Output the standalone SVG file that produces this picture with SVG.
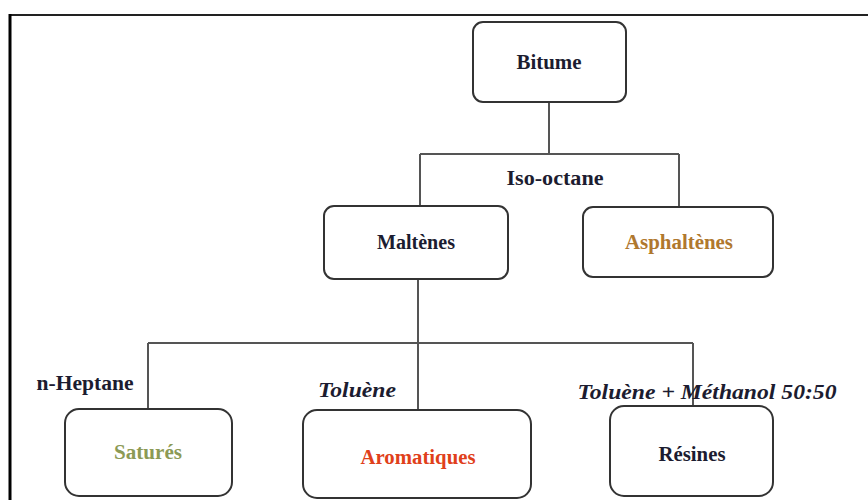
<svg xmlns="http://www.w3.org/2000/svg" width="868" height="500" viewBox="0 0 868 500">
<style>
.box{fill:#fff;stroke:#333;stroke-width:2}
.lbl{font-family:"Liberation Serif","Times New Roman",serif;font-weight:bold;font-size:20px;text-anchor:middle;dominant-baseline:central;fill:#1c1c30}
.it{font-style:italic}
.con{fill:none;stroke:#555;stroke-width:2}
</style>
<rect width="868" height="500" fill="#fff"/>
<g id="frame">
<line x1="9" y1="15" x2="868" y2="15" stroke="#222" stroke-width="2"/>
<line x1="10" y1="14" x2="10" y2="500" stroke="#000" stroke-width="3"/>
</g>
<g id="connectors">
<path class="con" d="M549 102 V154 M420 154 H679 M420 154 V206 M679 154 V207"/>
<path class="con" d="M418 279 V343 M148 343 H693 M148 343 V409 M418 343 V410 M693 343 V406"/>
</g>
<g id="bitume"><rect class="box" x="473" y="22" width="153" height="80" rx="10"/><text class="lbl" x="549" y="62" textLength="65" lengthAdjust="spacingAndGlyphs">Bitume</text></g>
<g id="isooctane"><text class="lbl" x="555" y="178" textLength="97" lengthAdjust="spacingAndGlyphs">Iso-octane</text></g>
<g id="maltenes"><rect class="box" x="324" y="206" width="184" height="73" rx="10"/><text class="lbl" x="416" y="242" textLength="78" lengthAdjust="spacingAndGlyphs">Maltènes</text></g>
<g id="asphaltenes"><rect class="box" x="583" y="207" width="190" height="70" rx="10"/><text class="lbl" x="679" y="242" textLength="108" lengthAdjust="spacingAndGlyphs" style="fill:#b0782e">Asphaltènes</text></g>
<g id="nheptane"><text class="lbl" x="85" y="383" textLength="97" lengthAdjust="spacingAndGlyphs">n-Heptane</text></g>
<g id="toluene"><text class="lbl it" x="357" y="390" textLength="78" lengthAdjust="spacingAndGlyphs">Toluène</text></g>
<g id="toluenemethanol"><text class="lbl it" x="707" y="392" textLength="259" lengthAdjust="spacingAndGlyphs">Toluène + Méthanol 50:50</text></g>
<g id="satures"><rect class="box" x="65" y="409" width="167" height="87" rx="14"/><text class="lbl" x="148" y="452" textLength="68" lengthAdjust="spacingAndGlyphs" style="fill:#8c9a55">Saturés</text></g>
<g id="aromatiques"><rect class="box" x="303" y="410" width="228" height="88" rx="14"/><text class="lbl" x="418" y="457" textLength="115" lengthAdjust="spacingAndGlyphs" style="fill:#e0401a">Aromatiques</text></g>
<g id="resines"><rect class="box" x="610" y="406" width="163" height="90" rx="14"/><text class="lbl" x="692" y="454" textLength="67" lengthAdjust="spacingAndGlyphs">Résines</text></g>
</svg>
